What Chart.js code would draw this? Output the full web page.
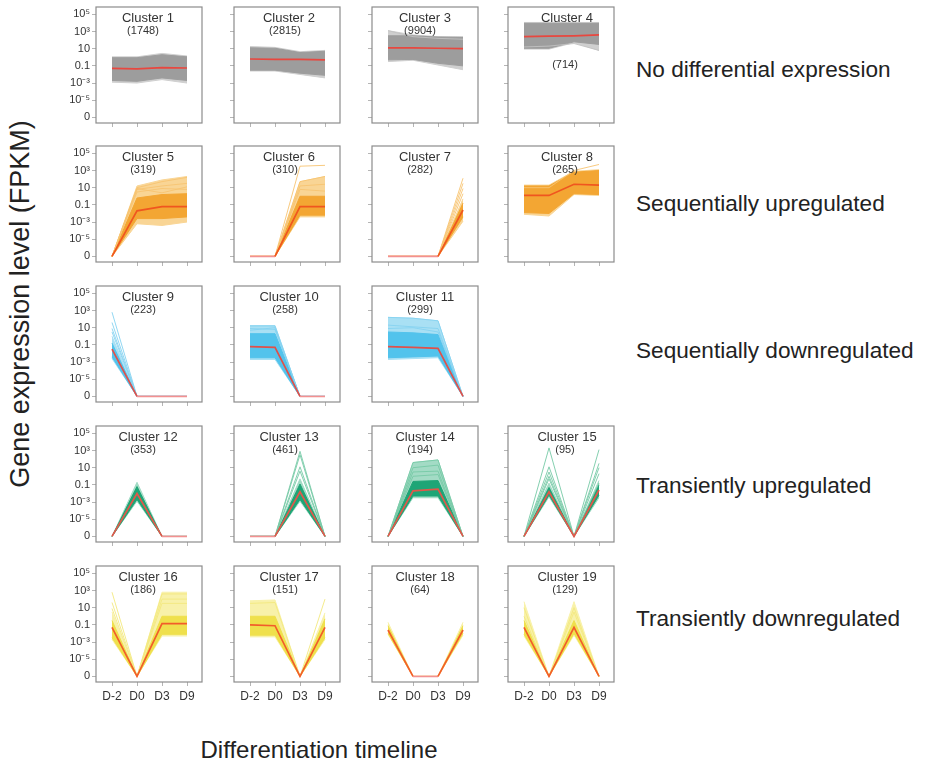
<!DOCTYPE html>
<html>
<head>
<meta charset="utf-8">
<script src="https://cdn.jsdelivr.net/npm/chart.js@4"></script>
<style>
  body { margin: 0; background: #fff; font-family: "Liberation Sans", Arial, sans-serif; color: #222; }
  #wrap { position: relative; width: 927px; height: 764px; overflow: hidden; }
  #wrap canvas { position: absolute; }
  .lbl { position: absolute; transform: translate(-50%, -50%); white-space: nowrap; color: #333; }
  .titulo { font-size: 13px; }
  .cuenta { font-size: 11px; }
  .patron { position: absolute; transform: translateY(-50%); font-size: 22.6px; white-space: nowrap; color: #222; }
</style>
</head>
<body>
<div id="wrap">
  <div class="lbl" style="left:20px;top:304px;transform:translate(-50%,-50%) rotate(-90deg);font-size:27px;color:#222;">Gene expression level (FPKM)</div>
  <div class="lbl" style="left:319px;top:750px;font-size:24px;color:#222;">Differentiation timeline</div>
</div>
<script>
// valores en log10(FPKM); -7 representa FPKM = 0
const ZERO = -7;
const timepoints = ['D-2', 'D0', 'D3', 'D9'];
const yTickValues = [5, 3, 1, -1, -3, -5, -7];
const yTickLabels = ['10⁵', '10³', '10', '0.1', '10⁻³', '10⁻⁵', '0'];

const patternNames = [
  'No differential expression',
  'Sequentially upregulated',
  'Sequentially downregulated',
  'Transiently upregulated',
  'Transiently downregulated',
];

const clusterSizes = [1748, 2815, 9904, 714, 319, 310, 282, 265, 223, 258, 299, 353, 461, 194, 95, 186, 151, 64, 129];
const clusterRow = [0, 0, 0, 0, 1, 1, 1, 1, 2, 2, 2, 3, 3, 3, 3, 4, 4, 4, 4];
const clusterCol = [0, 1, 2, 3, 0, 1, 2, 3, 0, 1, 2, 0, 1, 2, 3, 0, 1, 2, 3];

// perfil medio (línea roja)
const medianProfile = [
  [-1.3, -1.35, -1.2, -1.25],
  [-0.2, -0.25, -0.25, -0.3],
  [1.1, 1.1, 1.05, 1.0],
  [2.4, 2.45, 2.5, 2.6],
  [-7, -1.7, -1.2, -1.2],
  [-7, -7, -1.2, -1.2],
  [-7, -7, -7, -1.6],
  [0.1, 0.1, 1.4, 1.3],
  [-1.5, -7, -7, -7],
  [-1.2, -1.3, -7, -7],
  [-1.2, -1.3, -1.4, -7],
  [-7, -2.0, -7, -7],
  [-7, -7, -1.8, -7],
  [-7, -1.7, -1.5, -7],
  [-7, -1.8, -7, -1.6],
  [-1.3, -7, -0.85, -0.85],
  [-1.0, -1.1, -7, -1.3],
  [-1.6, -7, -7, -1.6],
  [-1.3, -7, -1.3, -7],
];

// envolvente exterior (líneas claras)
const outerHigh = [
  [0.05, 0.05, 0.45, 0.15],
  [1.25, 1.15, 0.65, 0.8],
  [3.1, 2.6, 2.4, 2.4],
  [4.05, 4.05, 4.05, 4.05],
  [-7, 1.2, 1.9, 2.3],
  [-7, -7, 1.7, 2.3],
  [-7, -7, -7, -0.3],
  [1.3, 1.3, 2.9, 3.1],
  [0.0, -7, -7, -7],
  [1.25, 1.25, -7, -7],
  [2.2, 2.1, 1.8, -7],
  [-7, -0.7, -7, -7],
  [-7, -7, -0.3, -7],
  [-7, 1.6, 1.9, -7],
  [-7, -0.8, -7, -0.5],
  [0.5, -7, 2.8, 2.8],
  [1.8, 1.9, -7, 0.4],
  [-0.7, -7, -7, -0.7],
  [1.7, -7, 1.7, -7],
];
const outerLow = [
  [-2.9, -3.0, -2.6, -3.0],
  [-1.6, -1.6, -2.0, -2.4],
  [-0.5, -0.35, -0.9, -1.45],
  [0.95, 0.95, 1.7, 0.8],
  [-7, -3.2, -3.4, -3.0],
  [-7, -7, -2.4, -2.4],
  [-7, -7, -7, -2.9],
  [-2.1, -2.3, 0.2, 0.1],
  [-2.6, -7, -7, -7],
  [-2.7, -2.7, -7, -7],
  [-2.7, -2.6, -2.5, -7],
  [-7, -2.9, -7, -7],
  [-7, -7, -2.9, -7],
  [-7, -2.5, -2.5, -7],
  [-7, -2.4, -7, -2.5],
  [-2.7, -7, -2.3, -2.3],
  [-2.4, -2.4, -7, -2.7],
  [-2.1, -7, -7, -2.2],
  [-2.3, -7, -2.2, -7],
];

// núcleo denso del cluster
const coreHigh = [
  [-0.05, -0.05, 0.3, 0.05],
  [1.1, 1.05, 0.55, 0.7],
  [2.5, 2.5, 2.35, 2.3],
  [3.95, 3.95, 3.95, 3.95],
  [-7, -0.2, 0.2, 0.3],
  [-7, -7, 0.0, 0.0],
  [-7, -7, -7, -0.8],
  [1.2, 1.2, 2.8, 3.0],
  [-0.8, -7, -7, -7],
  [0.3, 0.3, -7, -7],
  [0.5, 0.4, 0.2, -7],
  [-7, -1.2, -7, -7],
  [-7, -7, -0.9, -7],
  [-7, -0.6, -0.5, -7],
  [-7, -1.3, -7, -1.0],
  [-0.5, -7, 0.0, 0.0],
  [0.0, 0.0, -7, -0.3],
  [-1.1, -7, -7, -1.1],
  [-0.5, -7, -0.5, -7],
];
const coreLow = [
  [-2.7, -2.8, -2.4, -2.7],
  [-1.5, -1.5, -1.85, -2.1],
  [-0.3, -0.25, -0.7, -1.0],
  [1.05, 1.05, 1.8, 1.5],
  [-7, -2.6, -2.6, -2.4],
  [-7, -7, -2.2, -2.2],
  [-7, -7, -7, -2.4],
  [-1.9, -2.0, 0.3, 0.2],
  [-2.4, -7, -7, -7],
  [-2.5, -2.5, -7, -7],
  [-2.5, -2.4, -2.3, -7],
  [-7, -2.7, -7, -7],
  [-7, -7, -2.7, -7],
  [-7, -2.3, -2.3, -7],
  [-7, -2.2, -7, -2.2],
  [-2.5, -7, -2.1, -2.1],
  [-2.2, -2.2, -7, -2.5],
  [-2.0, -7, -7, -2.0],
  [-2.1, -7, -2.0, -7],
];

// genes sueltos visibles fuera del núcleo
const outlierLines = [
  [],
  [],
  [[3.1, 2.4, 2.2, 2.1]],
  [[1.2, 1.3, 1.6, 0.8]],
  [[-7, 1.0, 1.7, 2.2], [-7, 0.8, 1.2, 1.5], [-7, 0.5, 0.9, 0.8], [-7, 0.9, 0.4, 1.1]],
  [[-7, -7, 3.5, 3.6], [-7, -7, 1.7, 2.3], [-7, -7, 1.2, 1.4], [-7, -7, 0.8, 0.6]],
  [[-7, -7, -7, 2.1], [-7, -7, -7, 1.5], [-7, -7, -7, 0.9], [-7, -7, -7, 0.3]],
  [[1.0, 1.0, 3.0, 3.7]],
  [[2.8, -7, -7, -7], [1.6, -7, -7, -7], [0.9, -7, -7, -7], [0.5, -7, -7, -7]],
  [[1.2, 1.2, -7, -7], [0.9, 0.8, -7, -7], [0.7, 1.0, -7, -7]],
  [[2.2, 2.1, 1.8, -7], [1.3, 1.1, 0.9, -7], [0.9, 1.0, 0.5, -7]],
  [],
  [[-7, -7, 2.9, -7], [-7, -7, 2.5, -7], [-7, -7, 1.1, -7], [-7, -7, 0.6, -7]],
  [[-7, 1.6, 1.9, -7], [-7, 1.0, 1.3, -7], [-7, 0.5, 0.6, -7], [-7, 0.0, 0.2, -7]],
  [[-7, 3.3, -7, -0.8], [-7, 1.1, -7, 1.0], [-7, 0.5, -7, 3.1], [-7, 0.0, -7, 0.3], [-7, -0.3, -7, 1.5]],
  [[2.8, -7, 1.5, 1.5], [1.6, -7, 2.6, 2.6], [0.9, -7, 2.0, 2.0]],
  [[1.5, 1.6, -7, 2.0]],
  [],
  [[1.0, -7, 0.5, -7], [0.0, -7, 1.0, -7]],
];

// estilo por fila (patrón)
const palettes = [
  { light: '#cfcfcf', core: '#9d9d9d', mid: '#c2c2c2', median: '#e8473f' },
  { light: '#f9d595', core: '#f3a633', mid: '#f7c472', median: '#f0561f' },
  { light: '#a9e0f4', core: '#52c3ec', mid: '#86d3f0', median: '#e0504a' },
  { light: '#a3dbc5', core: '#1ea576', mid: '#76c9a6', median: '#e2574a' },
  { light: '#f8f1aa', core: '#efe04c', mid: '#f3e97f', median: '#f25d2a' },
];

const colLeft = [96, 234, 372, 508];
const rowTop = [7, 146, 286, 426, 566];
const rowLabelY = [70, 204, 351, 486, 619];
const BOX_W = 106;
const BOX_H = 116;
const PAD_TOP = 12;
const titleDx = [-1, 2, 0, 6];
const countDx = [-6, -2, -5, 4];

const wrap = document.getElementById('wrap');

const framePlugin = {
  id: 'frame',
  afterDatasetsDraw(chart) {
    const { ctx, chartArea: a } = chart;
    ctx.save();
    ctx.strokeStyle = '#8c8c8c';
    ctx.lineWidth = 1.2;
    ctx.strokeRect(a.left, a.top, a.right - a.left, a.bottom - a.top);
    ctx.restore();
  },
};

function addLabel(text, cls, x, y) {
  const d = document.createElement('div');
  d.className = 'lbl ' + cls;
  d.style.left = x + 'px';
  d.style.top = y + 'px';
  d.textContent = text;
  wrap.appendChild(d);
}

function crearPanel(i) {
  const row = clusterRow[i];
  const col = clusterCol[i];
  const wy = col === 0 ? 44 : 6;
  const hx = row === 4 ? 26 : 12;
  const canvas = document.createElement('canvas');
  canvas.width = wy + BOX_W + 4;
  canvas.height = PAD_TOP + BOX_H + hx;
  canvas.style.left = (colLeft[col] - wy) + 'px';
  canvas.style.top = (rowTop[row] - PAD_TOP) + 'px';
  wrap.appendChild(canvas);

  const pal = palettes[row];
  const pts = arr => arr.map((v, k) => ({ x: k, y: v }));
  const datasets = [
    { data: pts(outerLow[i]), borderColor: pal.light, borderWidth: 1, fill: false, order: 4 },
    { data: pts(outerHigh[i]), borderColor: pal.light, borderWidth: 1, backgroundColor: pal.light, fill: '-1', order: 4 },
    { data: pts(coreLow[i]), borderColor: pal.core, borderWidth: 1, fill: false, order: 3 },
    { data: pts(coreHigh[i]), borderColor: pal.core, borderWidth: 1, backgroundColor: pal.core, fill: '-1', order: 3 },
    ...outlierLines[i].map(l => ({ data: pts(l), borderColor: pal.mid, borderWidth: 0.9, fill: false, order: 2 })),
    {
      data: pts(medianProfile[i]), borderColor: pal.median, borderWidth: 1.7, fill: false, order: 0,
      segment: {
        borderColor: c => (c.p0.parsed.y === ZERO && c.p1.parsed.y === ZERO) ? '#f39090' : undefined,
      },
    },
  ];

  new Chart(canvas.getContext('2d'), {
    type: 'line',
    data: { datasets },
    options: {
      responsive: false,
      animation: false,
      events: [],
      layout: { padding: { top: PAD_TOP, right: 4, left: 0, bottom: 0 } },
      elements: { point: { radius: 0 }, line: { tension: 0 } },
      plugins: { legend: { display: false }, tooltip: { enabled: false } },
      scales: {
        x: {
          type: 'linear',
          min: -0.64,
          max: 3.6,
          afterBuildTicks: s => { s.ticks = timepoints.map((_, k) => ({ value: k })); },
          afterFit: s => { s.height = hx; },
          ticks: {
            display: row === 4, autoSkip: false, maxRotation: 0, padding: 3,
            callback: (v, idx) => timepoints[idx],
            font: { family: 'Liberation Sans', size: 12 }, color: '#333',
          },
          grid: { drawOnChartArea: false, tickLength: 4, color: '#b5b5b5' },
          border: { display: false },
        },
        y: {
          min: -7.65,
          max: 5.85,
          afterBuildTicks: s => { s.ticks = yTickValues.map(v => ({ value: v })); },
          afterFit: s => { s.width = wy; },
          ticks: {
            display: col === 0, autoSkip: false, padding: 2,
            callback: (v, idx) => yTickLabels[idx],
            font: { family: 'Liberation Sans', size: 11 }, color: '#333',
          },
          grid: { drawOnChartArea: false, tickLength: 4, color: '#b5b5b5' },
          border: { display: false },
        },
      },
    },
    plugins: [framePlugin],
  });

  const cx = colLeft[col] + BOX_W / 2;
  addLabel('Cluster ' + (i + 1), 'titulo', cx + titleDx[col], rowTop[row] + 10);
  const cuentaY = i === 3 ? rowTop[row] + 57 : rowTop[row] + 23;
  addLabel('(' + clusterSizes[i] + ')', 'cuenta', cx + countDx[col], cuentaY);
}

clusterSizes.forEach((_, i) => crearPanel(i));

patternNames.forEach((name, r) => {
  const d = document.createElement('div');
  d.className = 'patron';
  d.style.left = '636px';
  d.style.top = rowLabelY[r] + 'px';
  d.textContent = name;
  wrap.appendChild(d);
});
</script>
</body>
</html>
